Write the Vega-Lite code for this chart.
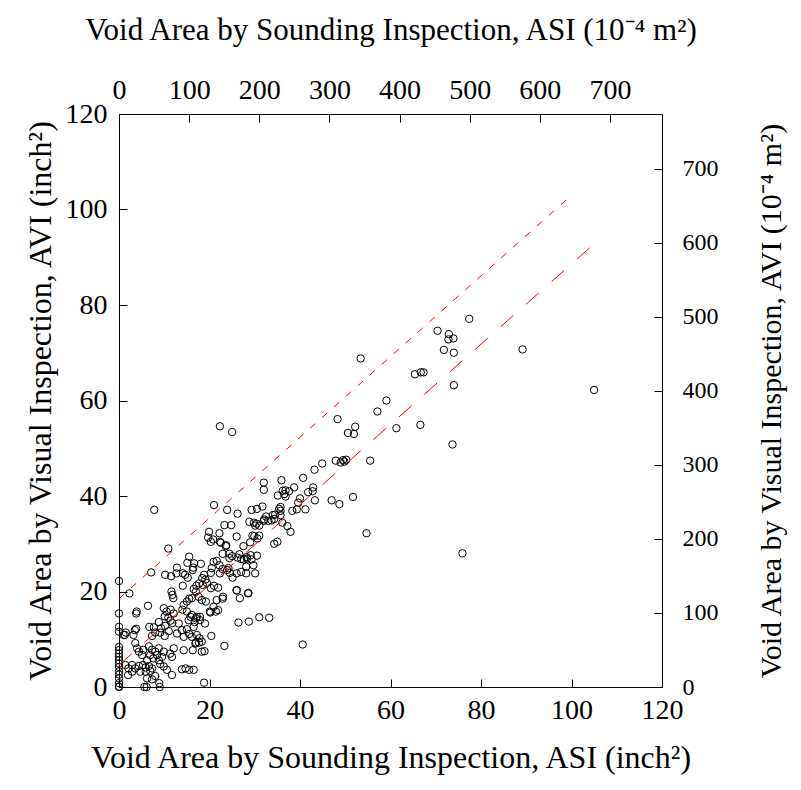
{
  "$schema": "https://vega.github.io/schema/vega-lite/v6.json",
  "width": 543,
  "height": 573,
  "autosize": {"type": "none"},
  "padding": {"left": 119, "top": 114, "right": 139, "bottom": 103},
  "background": "white",
  "config": {
    "font": "Liberation Serif",
    "view": {"stroke": null},
    "axis": {
      "grid": false,
      "domainColor": "black",
      "tickColor": "black",
      "labelColor": "black",
      "titleColor": "black",
      "labelFont": "Liberation Serif",
      "titleFont": "Liberation Serif",
      "titleFontWeight": "normal",
      "domainWidth": 1,
      "tickWidth": 1,
      "tickSize": -8,
      "labelFontSize": 28
    }
  },
  "layer": [
    {
      "layer": [
        {
          "data": {
            "values": [
              {"asi":105.0,"avi":62.2},{"asi":89.2,"avi":70.7},{"asi":77.4,"avi":77.1},{"asi":70.4,"avi":74.6},{"asi":72.9,"avi":73.9},{"asi":72.8,"avi":72.8},{"asi":73.9,"avi":73.0},{"asi":71.8,"avi":70.6},{"asi":74.0,"avi":70.0},{"asi":74.0,"avi":63.2},{"asi":73.7,"avi":50.8},{"asi":75.9,"avi":28.0},{"asi":54.7,"avi":32.2},{"asi":53.4,"avi":68.8},{"asi":65.4,"avi":65.5},{"asi":66.7,"avi":65.9},{"asi":67.3,"avi":65.9},{"asi":59.1,"avi":60.0},{"asi":57.1,"avi":57.7},{"asi":61.3,"avi":54.2},{"asi":66.6,"avi":54.9},{"asi":48.3,"avi":56.1},{"asi":50.6,"avi":53.2},{"asi":51.9,"avi":53.0},{"asi":52.2,"avi":54.5},{"asi":55.5,"avi":47.4},{"asi":47.9,"avi":47.4},{"asi":49.0,"avi":47.0},{"asi":49.5,"avi":47.5},{"asi":49.8,"avi":47.2},{"asi":50.2,"avi":47.6},{"asi":44.9,"avi":46.8},{"asi":43.2,"avi":45.5},{"asi":40.7,"avi":43.8},{"asi":40.0,"avi":39.5},{"asi":42.9,"avi":41.8},{"asi":42.8,"avi":41.0},{"asi":41.8,"avi":40.8},{"asi":43.3,"avi":39.1},{"asi":41.2,"avi":37.2},{"asi":47.0,"avi":39.1},{"asi":48.7,"avi":38.3},{"asi":51.7,"avi":39.8},{"asi":22.3,"avi":54.6},{"asi":25.0,"avi":53.4},{"asi":7.8,"avi":37.1},
              {"asi":38.7,"avi":41.8},{"asi":36.8,"avi":41.2},{"asi":36.2,"avi":41.1},{"asi":36.5,"avi":40.4},{"asi":35.9,"avi":43.3},{"asi":32.0,"avi":42.8},{"asi":32.0,"avi":41.3},{"asi":35.1,"avi":40.1},{"asi":36.8,"avi":39.9},{"asi":37.6,"avi":41.0},{"asi":31.7,"avi":37.8},{"asi":35.7,"avi":37.7},{"asi":35.4,"avi":37.3},{"asi":35.7,"avi":36.9},{"asi":39.6,"avi":38.6},{"asi":39.3,"avi":37.2},{"asi":38.3,"avi":36.9},{"asi":29.3,"avi":37.1},{"asi":30.5,"avi":37.3},{"asi":34.5,"avi":36.1},{"asi":35.7,"avi":36.0},{"asi":32.5,"avi":35.7},{"asi":32.1,"avi":35.1},{"asi":33.0,"avi":34.8},{"asi":26.2,"avi":36.3},{"asi":23.9,"avi":37.1},{"asi":21.0,"avi":38.1},{"asi":28.8,"avi":34.6},{"asi":29.8,"avi":34.4},{"asi":30.4,"avi":34.2},{"asi":31.0,"avi":33.8},{"asi":30.1,"avi":33.8},{"asi":23.3,"avi":33.9},{"asi":24.8,"avi":33.9},{"asi":36.1,"avi":34.4},{"asi":37.2,"avi":33.7},{"asi":37.9,"avi":32.5},{"asi":19.9,"avi":32.5},{"asi":22.2,"avi":32.2},{"asi":19.7,"avi":31.3},{"asi":26.0,"avi":31.5},{"asi":29.9,"avi":31.6},{"asi":31.0,"avi":31.7},{"asi":34.0,"avi":36.0},{"asi":34.3,"avi":35.2},{"asi":33.7,"avi":34.9},{"asi":32.0,"avi":34.8},{"asi":20.8,"avi":30.9},{"asi":20.3,"avi":30.4},{"asi":22.5,"avi":30.2},{"asi":23.7,"avi":29.7},{"asi":29.5,"avi":31.7},{"asi":30.6,"avi":31.1},{"asi":29.0,"avi":30.3},{"asi":27.5,"avi":29.5},{"asi":22.3,"avi":30.4},{"asi":23.6,"avi":29.5},{"asi":34.3,"avi":30.0},{"asi":35.0,"avi":30.4},{"asi":10.9,"avi":29.0},
              {"asi":25.0,"avi":27.4},{"asi":26.2,"avi":27.1},{"asi":27.0,"avi":26.8},{"asi":27.6,"avi":26.7},{"asi":28.2,"avi":27.2},{"asi":24.4,"avi":27.0},{"asi":29.3,"avi":26.7},{"asi":30.5,"avi":27.5},{"asi":22.9,"avi":27.9},{"asi":24.4,"avi":27.9},{"asi":26.6,"avi":27.8},{"asi":28.3,"avi":26.9},{"asi":29.1,"avi":27.6},
              {"asi":7.1,"avi":24.0},{"asi":10.2,"avi":23.5},{"asi":11.5,"avi":23.2},{"asi":15.5,"avi":27.3},{"asi":15.1,"avi":26.0},{"asi":16.6,"avi":25.9},{"asi":16.4,"avi":25.0},{"asi":16.3,"avi":24.5},{"asi":18.1,"avi":25.8},{"asi":12.8,"avi":25.0},{"asi":14.1,"avi":23.8},{"asi":15.2,"avi":22.9},{"asi":21.6,"avi":26.4},{"asi":22.2,"avi":25.5},{"asi":22.9,"avi":24.7},{"asi":23.9,"avi":24.5},{"asi":24.5,"avi":23.9},{"asi":24.2,"avi":24.9},{"asi":22.3,"avi":23.8},{"asi":20.9,"avi":26.2},{"asi":18.8,"avi":23.5},{"asi":18.4,"avi":22.8},{"asi":19.1,"avi":22.5},{"asi":19.4,"avi":21.8},{"asi":18.5,"avi":21.4},{"asi":20.5,"avi":24.9},{"asi":20.3,"avi":23.9},{"asi":25.1,"avi":22.9},{"asi":26.0,"avi":23.8},{"asi":27.0,"avi":24.1},{"asi":28.1,"avi":23.8},{"asi":29.7,"avi":25.5},{"asi":30.1,"avi":23.8},{"asi":28.1,"avi":25.2},{"asi":14.1,"avi":21.2},{"asi":16.5,"avi":20.5},{"asi":17.1,"avi":21.2},{"asi":17.7,"avi":21.7},{"asi":17.0,"avi":20.0},{"asi":15.5,"avi":18.5},{"asi":11.6,"avi":20.0},{"asi":11.8,"avi":19.3},{"asi":12.0,"avi":18.6},{"asi":20.3,"avi":20.7},{"asi":21.0,"avi":21.2},{"asi":21.9,"avi":20.8},{"asi":23.0,"avi":18.9},{"asi":26.0,"avi":20.3},{"asi":28.6,"avi":19.7},{"asi":26.7,"avi":18.6},{"asi":14.6,"avi":23.5},{"asi":12.7,"avi":23.8},
              {"asi":2.3,"avi":19.6},{"asi":1.5,"avi":11.4},{"asi":1.3,"avi":10.9},{"asi":3.8,"avi":15.4},{"asi":6.4,"avi":17.0},{"asi":3.8,"avi":12.2},{"asi":3.5,"avi":11.9},{"asi":3.2,"avi":10.9},{"asi":9.9,"avi":16.5},{"asi":10.5,"avi":15.8},{"asi":11.4,"avi":16.2},{"asi":12.1,"avi":15.4},{"asi":10.1,"avi":14.8},{"asi":10.9,"avi":14.5},{"asi":11.4,"avi":13.9},{"asi":11.8,"avi":13.4},{"asi":14.3,"avi":17.2},{"asi":15.0,"avi":17.9},{"asi":16.1,"avi":18.6},{"asi":17.6,"avi":18.9},{"asi":18.3,"avi":18.2},{"asi":19.2,"avi":17.9},{"asi":14.0,"avi":16.2},{"asi":15.0,"avi":15.8},{"asi":16.1,"avi":15.1},{"asi":17.2,"avi":14.7},{"asi":15.4,"avi":14.0},{"asi":16.7,"avi":13.6},{"asi":17.9,"avi":14.0},{"asi":19.0,"avi":13.3},{"asi":20.2,"avi":15.6},{"asi":21.9,"avi":16.1},{"asi":20.9,"avi":16.8},{"asi":7.7,"avi":12.5},{"asi":8.8,"avi":13.6},{"asi":9.3,"avi":12.3},{"asi":10.2,"avi":12.8},{"asi":8.0,"avi":11.4},{"asi":9.1,"avi":11.4},{"asi":7.3,"avi":10.7},{"asi":10.1,"avi":10.7},{"asi":11.0,"avi":11.7},{"asi":13.2,"avi":13.3},{"asi":13.9,"avi":11.9},{"asi":15.0,"avi":12.1},{"asi":15.5,"avi":11.1},{"asi":16.1,"avi":10.5},{"asi":14.3,"avi":10.5},{"asi":12.8,"avi":11.2},{"asi":16.5,"avi":12.6},{"asi":17.2,"avi":10.9},{"asi":17.8,"avi":10.2},{"asi":16.9,"avi":9.1},{"asi":18.3,"avi":9.5},{"asi":20.4,"avi":10.7},{"asi":14.3,"avi":7.7},{"asi":16.3,"avi":7.7},{"asi":18.3,"avi":7.4},{"asi":12.1,"avi":8.1},{"asi":11.3,"avi":7.0},{"asi":11.7,"avi":6.3},
              {"asi":3.6,"avi":9.2},{"asi":4.0,"avi":8.1},{"asi":4.4,"avi":7.4},{"asi":5.4,"avi":7.8},{"asi":6.6,"avi":8.5},{"asi":5.1,"avi":6.7},{"asi":6.9,"avi":6.7},{"asi":7.3,"avi":7.8},{"asi":8.0,"avi":7.4},{"asi":8.8,"avi":8.1},{"asi":8.4,"avi":6.7},{"asi":7.6,"avi":6.0},{"asi":6.2,"avi":5.6},{"asi":8.8,"avi":5.6},{"asi":9.5,"avi":6.3},{"asi":9.9,"avi":7.4},
              {"asi":1.4,"avi":4.6},{"asi":2.1,"avi":3.9},{"asi":2.9,"avi":4.6},{"asi":3.6,"avi":3.9},{"asi":4.4,"avi":4.4},{"asi":5.3,"avi":4.6},{"asi":5.9,"avi":4.1},{"asi":6.6,"avi":4.4},{"asi":7.3,"avi":3.9},{"asi":4.7,"avi":3.2},{"asi":5.9,"avi":3.2},{"asi":6.9,"avi":3.4},{"asi":2.9,"avi":3.2},{"asi":2.0,"avi":2.5},
              {"asi":9.1,"avi":4.8},{"asi":9.9,"avi":4.3},{"asi":10.6,"avi":3.6},{"asi":8.0,"avi":2.3},{"asi":6.2,"avi":1.8},{"asi":7.3,"avi":1.6},{"asi":13.9,"avi":3.7},{"asi":14.7,"avi":3.9},{"asi":15.5,"avi":3.6},{"asi":16.5,"avi":3.6},{"asi":11.7,"avi":2.5},{"asi":5.6,"avi":0},{"asi":6.1,"avi":0},{"asi":9.0,"avi":0},{"asi":8.9,"avi":0.8},{"asi":18.8,"avi":0.9},{"asi":40.6,"avi":8.9},{"asi":23.3,"avi":8.6},{"asi":18.9,"avi":7.5},{"asi":17.0,"avi":9.3},{"asi":26.4,"avi":13.5},{"asi":28.7,"avi":13.7},{"asi":31.0,"avi":14.6},{"asi":33.2,"avi":14.5},{"asi":26.0,"avi":20.2},{"asi":28.5,"avi":19.6},{"asi":21.6,"avi":18.2},{"asi":22.9,"avi":18.5},{"asi":20.1,"avi":15.8},{"asi":21.4,"avi":15.8},{"asi":17.9,"avi":14.7},{"asi":17.0,"avi":14.4},{"asi":15.8,"avi":14.7},{"asi":17.7,"avi":9.3},{"asi":3.9,"avi":15.8},{"asi":6.7,"avi":12.6},
              {"asi":0,"avi":22.2},{"asi":0,"avi":15.4},{"asi":0,"avi":12.6},{"asi":0,"avi":11.6},{"asi":0,"avi":8.4},{"asi":0,"avi":7.7},{"asi":0,"avi":7.0},{"asi":0,"avi":6.3},{"asi":0,"avi":5.6},{"asi":0,"avi":4.9},{"asi":0,"avi":4.2},{"asi":0,"avi":3.3},{"asi":0,"avi":2.6},{"asi":0,"avi":1.8},{"asi":0,"avi":0.8},{"asi":0,"avi":0.1},{"asi":0,"avi":0},{"asi":1.0,"avi":10.9}
            ]
          },
          "mark": {"type": "point", "shape": "circle", "filled": false, "stroke": "black", "strokeWidth": 1, "size": 55, "opacity": 1},
          "encoding": {
            "x": {
              "field": "asi", "type": "quantitative",
              "scale": {"domain": [0, 120], "nice": false, "zero": true},
              "axis": {"orient": "bottom", "values": [0, 20, 40, 60, 80, 100, 120], "labelPadding": 17, "title": "Void Area by Sounding Inspection, ASI (inch²)", "titleFontSize": 32, "titlePadding": 18, "labelFlush": false}
            },
            "y": {
              "field": "avi", "type": "quantitative",
              "scale": {"domain": [0, 120], "nice": false, "zero": true},
              "axis": {"orient": "left", "values": [0, 20, 40, 60, 80, 100, 120], "labelPadding": 20, "title": "Void Area by Visual Inspection, AVI (inch²)", "titleFontSize": 32, "titlePadding": 8, "labelFlush": false}
            }
          }
        },
        {
          "data": {
            "values": [
              {"line": "upper", "asi": 0, "avi": 18.5},
              {"line": "upper", "asi": 100, "avi": 103.0},
              {"line": "fit", "asi": 0, "avi": 4.6},
              {"line": "fit", "asi": 105, "avi": 92.8}
            ]
          },
          "mark": {"type": "line", "stroke": "#ff0000", "strokeWidth": 1},
          "encoding": {
            "x": {"field": "asi", "type": "quantitative"},
            "y": {"field": "avi", "type": "quantitative"},
            "strokeDash": {"field": "line", "type": "nominal", "scale": {"domain": ["upper", "fit"], "range": [[7, 9], [17, 17]]}, "legend": null}
          }
        }
      ]
    },
    {
      "data": {"values": [{"m2x": 0, "m2y": 0}]},
      "mark": {"type": "point", "opacity": 0},
      "encoding": {
        "x": {
          "field": "m2x", "type": "quantitative",
          "scale": {"domain": [0, 774.19], "nice": false},
          "axis": {"orient": "top", "values": [0, 100, 200, 300, 400, 500, 600, 700], "labelPadding": 18, "title": "Void Area by Sounding Inspection, ASI (10⁻⁴ m²)", "titleFontSize": 31, "titlePadding": 30, "labelFlush": false}
        },
        "y": {
          "field": "m2y", "type": "quantitative",
          "scale": {"domain": [0, 774.19], "nice": false},
          "axis": {"orient": "right", "values": [0, 100, 200, 300, 400, 500, 600, 700], "labelPadding": 28, "labelFontSize": 24, "title": "Void Area by Visual Inspection, AVI  (10⁻⁴ m²)", "titleFontSize": 30, "titleAngle": -90, "titlePadding": 68, "labelFlush": false}
        }
      }
    }
  ],
  "resolve": {"scale": {"x": "independent", "y": "independent"}, "axis": {"x": "independent", "y": "independent"}}
}
